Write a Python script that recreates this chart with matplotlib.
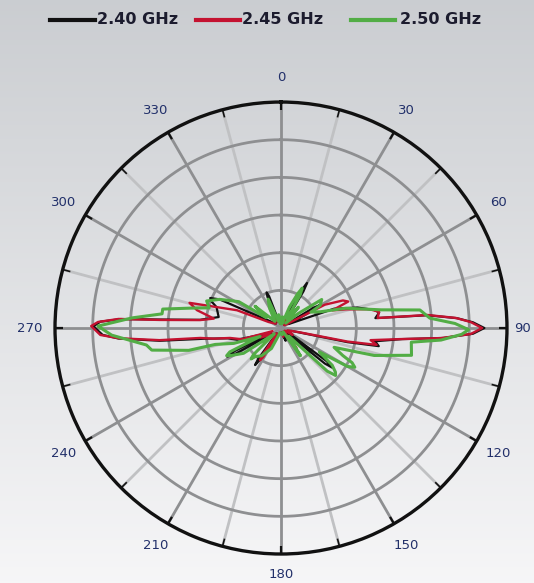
import numpy as np
import matplotlib
matplotlib.use("Agg")
import matplotlib.pyplot as plt
from matplotlib.lines import Line2D

# ---------- Data (angle in degrees, clockwise from top; radius as fraction of outer ring) ----------
labels = ["2.40 GHz", "2.45 GHz", "2.50 GHz"]

theta_240 = [0, 10, 26, 28.5, 30, 31.5, 34, 45, 56, 58, 59.5, 61, 63, 70, 75, 79, 81, 84, 85,
             86.8, 88.3, 90, 91.7, 93.5, 95.2, 98, 100.5, 102, 105, 115, 123, 126, 127.6, 129,
             131, 150, 160, 175, 195, 211, 213.5, 215, 216.5, 219, 232, 238, 240.5, 242, 243.5,
             246, 255, 259, 262, 264, 266.3, 267.8, 270.5, 272, 273.2, 274, 275.8, 280, 288,
             291, 293, 295, 298, 310, 334, 336.5, 338, 339.5, 342, 355, 360]
r_240 = [0.02, 0.03, 0.04, 0.19, 0.23, 0.19, 0.03, 0.02, 0.04, 0.17, 0.20, 0.17, 0.04, 0.25,
         0.35, 0.42, 0.44, 0.42, 0.65, 0.78, 0.85, 0.90, 0.85, 0.72, 0.54, 0.42, 0.44, 0.30,
         0.05, 0.03, 0.04, 0.25, 0.29, 0.25, 0.04, 0.02, 0.06, 0.02, 0.03, 0.04, 0.17, 0.20,
         0.17, 0.03, 0.06, 0.05, 0.23, 0.27, 0.23, 0.05, 0.20, 0.24, 0.34, 0.54, 0.72, 0.79,
         0.83, 0.80, 0.71, 0.54, 0.36, 0.28, 0.30, 0.33, 0.34, 0.30, 0.10, 0.03, 0.04, 0.15,
         0.17, 0.15, 0.03, 0.02, 0.02]

theta_245 = [0, 8, 20, 28, 32, 45, 52, 62, 66, 68.5, 71, 74, 78, 80.6, 84.1, 84.9, 86.7, 88.2,
             90, 91.8, 93.6, 95.3, 97.7, 100, 101.5, 103, 110, 120, 125, 140, 142, 144, 147,
             165, 180, 200, 209, 211.5, 213, 214.5, 217, 235, 245, 250, 254, 259, 261, 263,
             264.3, 266.4, 267.8, 270.6, 271.9, 273.2, 273.8, 275.6, 278, 282, 285.4, 288, 292,
             296, 310, 320, 335, 345, 355, 360]
r_245 = [0.02, 0.04, 0.02, 0.08, 0.02, 0.03, 0.02, 0.22, 0.30, 0.32, 0.24, 0.30, 0.40, 0.44,
         0.43, 0.65, 0.775, 0.84, 0.89, 0.84, 0.71, 0.53, 0.40, 0.43, 0.30, 0.08, 0.03, 0.06,
         0.02, 0.03, 0.11, 0.12, 0.02, 0.04, 0.02, 0.03, 0.04, 0.15, 0.17, 0.15, 0.03, 0.05,
         0.10, 0.04, 0.18, 0.23, 0.30, 0.36, 0.54, 0.72, 0.80, 0.84, 0.81, 0.72, 0.54, 0.36,
         0.30, 0.38, 0.42, 0.30, 0.21, 0.06, 0.03, 0.06, 0.03, 0.05, 0.02, 0.02]

theta_250 = [0, 8, 14, 22, 26, 28, 30, 33, 40, 44, 50, 55, 60, 62, 67.7, 73, 79.7, 82.6, 86.2,
             88.5, 90.5, 92, 94.3, 96.2, 101.8, 106.4, 110, 114, 116, 118, 120, 122, 126, 129,
             131, 133, 136, 145, 150, 170, 190, 205, 215, 222, 224, 226, 229, 236, 241, 243,
             245, 248, 252, 256, 256.4, 260.3, 262.8, 267.6, 270.6, 273.9, 276.8, 279.1,
             282.4, 285.7, 290, 295, 298, 302, 305, 310, 318, 330, 336, 340, 350, 360]
r_250 = [0.02, 0.05, 0.02, 0.10, 0.17, 0.20, 0.17, 0.05, 0.12, 0.03, 0.10, 0.22, 0.20, 0.15,
         0.19, 0.30, 0.45, 0.62, 0.66, 0.77, 0.83, 0.80, 0.71, 0.58, 0.59, 0.43, 0.25, 0.30,
         0.35, 0.37, 0.34, 0.20, 0.28, 0.31, 0.32, 0.28, 0.05, 0.15, 0.02, 0.03, 0.02, 0.10,
         0.15, 0.17, 0.19, 0.17, 0.04, 0.20, 0.25, 0.27, 0.25, 0.10, 0.22, 0.30, 0.42, 0.58,
         0.60, 0.75, 0.81, 0.66, 0.53, 0.53, 0.41, 0.33, 0.35, 0.30, 0.26, 0.22, 0.08, 0.15,
         0.04, 0.10, 0.14, 0.03, 0.06, 0.02]

angle_labels = [0, 30, 60, 90, 120, 150, 180, 210, 240, 270, 300, 330]

# ---------- Style ----------
COLORS = ["#111111", "#c41230", "#52ad45"]
WIDTHS = [1.6, 1.7, 2.2]
GRID_DARK = "#8e8f91"
GRID_LIGHT = "#c0c1c3"
LABEL = "#22306a"

fig = plt.figure(figsize=(5.34, 5.83), dpi=100)

# gradient background
bg = fig.add_axes([0, 0, 1, 1], zorder=-1)
top = np.array([0.795, 0.805, 0.82])
bot = np.array([0.965, 0.965, 0.97])
t = np.linspace(0, 1, 256)[:, None]
grad = top[None, :] * (1 - t) + bot[None, :] * t
bg.imshow(grad[:, None, :], aspect="auto", extent=[0, 1, 0, 1])
bg.set_xlim(0, 1)
bg.set_ylim(0, 1)
bg.axis("off")

ax = fig.add_axes([0.103, 0.0497, 0.8464, 0.7753], projection="polar")
ax.set_facecolor("none")
ax.set_theta_zero_location("N")
ax.set_theta_direction(-1)
ax.set_ylim(0, 1)
ax.set_xticks([])
ax.set_yticks([])
ax.grid(False)
ax.spines["polar"].set_linewidth(2.4)
ax.spines["polar"].set_color("#111111")

# rings
full = np.linspace(0, 2 * np.pi, 361)
for k in range(1, 6):
    ax.plot(full, np.full_like(full, k / 6), color=GRID_DARK, lw=2.0, zorder=1)

# spokes
for a in range(0, 360, 30):
    ax.plot([np.radians(a)] * 2, [0, 1], color=GRID_DARK, lw=2.0, zorder=1)
for a in range(15, 360, 30):
    ax.plot([np.radians(a)] * 2, [1 / 6, 1], color=GRID_LIGHT, lw=2.0, zorder=0.9)

# ticks on outer circle
for a in range(0, 360, 15):
    ax.plot([np.radians(a)] * 2, [0.965, 1.0], color="#111111", lw=1.6 if a % 30 == 0 else 1.2,
            zorder=3, solid_capstyle="butt")

# angle labels (90 and 180 pulled in a little so they stay inside the canvas)
label_r = {90: 1.07, 180: 1.09}
for a in angle_labels:
    ax.text(np.radians(a), label_r.get(a, 1.11), str(a), ha="center", va="center",
            fontsize=9.5, color=LABEL, clip_on=False)

# ---------- Patterns ----------
series = [(theta_240, r_240), (theta_245, r_245), (theta_250, r_250)]
for (th, rr), c, w in zip(series, COLORS, WIDTHS):
    ax.plot(np.radians(th), rr, color=c, lw=w, zorder=4, solid_joinstyle="round")

# ---------- Legend (drawn by hand to match spacing) ----------
W, H = 534.0, 583.0
leg_y = 1 - 20 / H
line_spans = [(50, 95), (196, 240), (351, 395)]
text_x = [97, 242, 400]
for (x0, x1), tx, c, lab in zip(line_spans, text_x, COLORS, labels):
    fig.add_artist(Line2D([x0 / W, x1 / W], [leg_y, leg_y], color=c, lw=3,
                          transform=fig.transFigure))
    fig.text(tx / W, leg_y, lab, ha="left", va="center", fontsize=11.5,
             fontweight="bold", color="#1c1c2e")

fig.savefig("out.png", dpi=100)
